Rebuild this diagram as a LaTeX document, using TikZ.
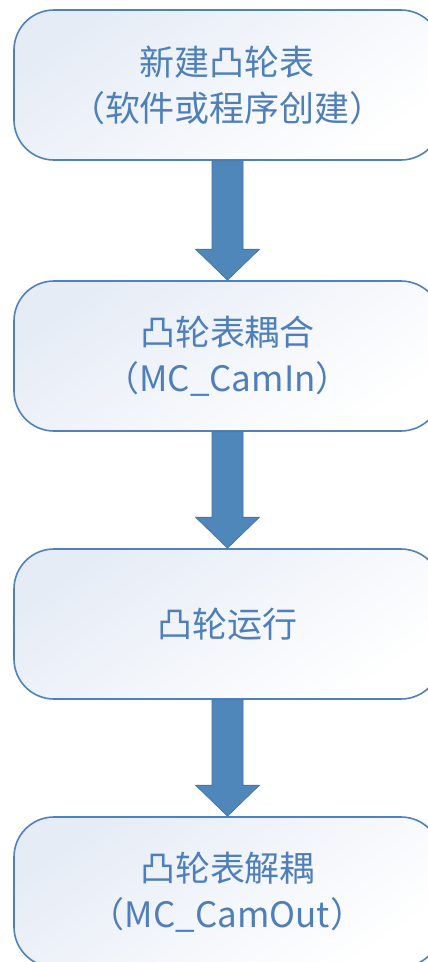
\documentclass[tikz,border=0pt]{standalone}
\usepackage{fontspec}
\setmainfont{Noto Sans CJK SC}
\usetikzlibrary{calc}
\definecolor{boxline}{HTML}{4F81BD}
\definecolor{boxfill}{HTML}{E6ECF6}
\definecolor{txt}{HTML}{4E7FBA}
\definecolor{arrowfill}{HTML}{4F87BB}
\definecolor{arrowline}{HTML}{41719C}
\tikzset{
  stepbox/.style={draw=boxline, line width=1.6pt, rounded corners=40pt,
    minimum width=427pt, minimum height=150pt, inner sep=0pt,
    left color=boxfill, right color=white, shading angle=35,
    text=txt, font=\fontsize{35}{46}\selectfont, align=center},
  blockarrow/.style={fill=arrowfill, draw=arrowline, line width=0.6pt, line join=miter}
}
\begin{document}
\begin{tikzpicture}[x=1pt,y=-1pt]
\useasboundingbox (0,0) rectangle (428,962);
\clip (0,0) rectangle (428,962);
\fill[white] (0,0) rectangle (428,962);
\node[stepbox] (b1) at (227.5,85) {新建凸轮表\\（软件或程序创建）};
\node[stepbox] (b2) at (227.5,356) {凸轮表耦合\\（MC\_CamIn）};
\node[stepbox] (b3) at (227.5,624) {凸轮运行};
\node[stepbox] (b4) at (227.5,892) {凸轮表解耦\\（MC\_CamOut）};
\foreach \a/\b in {b1/b2,b2/b3,b3/b4}{
  \path[blockarrow] ($(\a.south)+(-15.5,0)$) -- ($(\a.south)+(15.5,0)$)
    -- ($(\b.north)+(15.5,-31)$) -- ($(\b.north)+(32,-31)$)
    -- (\b.north) -- ($(\b.north)+(-32,-31)$) -- ($(\b.north)+(-15.5,-31)$) -- cycle;
}
\end{tikzpicture}
\end{document}
